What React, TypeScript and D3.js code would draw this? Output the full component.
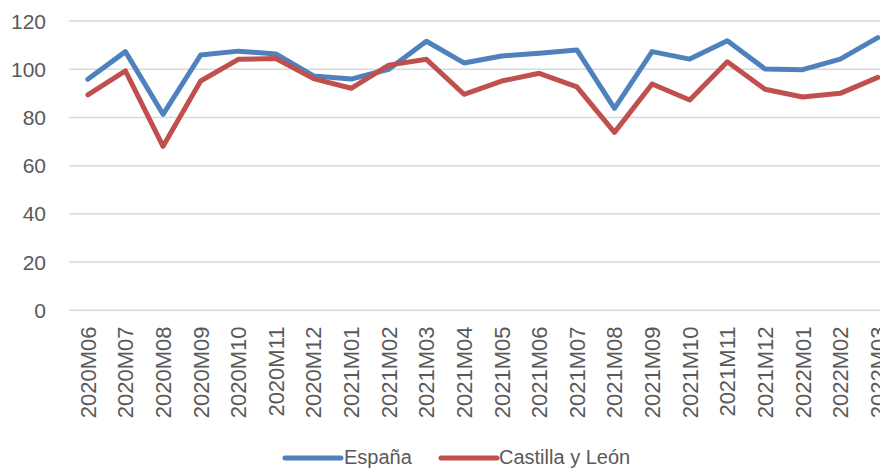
import React from "react";
import * as d3 from "d3";

const categories = [
  "2020M06", "2020M07", "2020M08", "2020M09", "2020M10", "2020M11", "2020M12",
  "2021M01", "2021M02", "2021M03", "2021M04", "2021M05", "2021M06", "2021M07",
  "2021M08", "2021M09", "2021M10", "2021M11", "2021M12", "2022M01", "2022M02", "2022M03",
];

const espana = [
  95.8, 107.3, 81.3, 105.9, 107.5, 106.3, 97.2,
  95.9, 100.0, 111.6, 102.6, 105.5, 106.6, 108.0,
  83.8, 107.3, 104.2, 111.8, 100.1, 99.8, 104.2, 113.1,
];

const castilla = [
  89.4, 99.3, 68.0, 95.1, 104.1, 104.4, 96.1,
  92.1, 101.7, 104.1, 89.6, 95.1, 98.3, 92.7,
  73.8, 93.9, 87.2, 103.1, 91.7, 88.5, 90.0, 96.6,
];

const yTicks = [0, 20, 40, 60, 80, 100, 120];

const seriesNames = ["España", "Castilla y León"];
const seriesColors = ["#4F81BD", "#C0504D"];

const W = 880;
const H = 468;
const FONT = "'Liberation Sans', Arial, sans-serif";
const TEXT = "#595959";

export default function App() {
  const x = d3
    .scaleBand<string>()
    .domain(categories)
    .range([69, 69 + 22 * 37.62])
    .padding(0);
  const y = d3.scaleLinear().domain([0, 120]).range([310.3, 21]);
  const cx = (c: string) => (x(c) ?? 0) + x.bandwidth() / 2;

  const line = d3
    .line<number>()
    .x((_, i) => cx(categories[i]))
    .y((d) => y(d));

  const series = [espana, castilla];

  const legendItems = [
    { x1: 285, x2: 341, tx: 344 },
    { x1: 441, x2: 497, tx: 499 },
  ];

  return (
    <svg
      width={W}
      height={H}
      style={{ position: "absolute", left: 0, top: 0, overflow: "hidden", background: "#fff" }}
      fontFamily={FONT}
    >
      <rect x={0} y={0} width={W} height={H} fill="#fff" />
      {yTicks.map((t) => (
        <g key={t}>
          <line x1={69} x2={W} y1={y(t)} y2={y(t)} stroke="#d9d9d9" strokeWidth={1.5} />
          <text
            x={46}
            y={y(t)}
            dy="0.36em"
            textAnchor="end"
            fontSize={21}
            fill={TEXT}
          >
            {t}
          </text>
        </g>
      ))}
      {categories.map((c) => (
        <text
          key={c}
          transform={`translate(${cx(c)},326.5) rotate(-90)`}
          textAnchor="end"
          dy="0.36em"
          fontSize={22}
          fill={TEXT}
        >
          {c}
        </text>
      ))}
      {series.map((s, i) => (
        <path
          key={i}
          d={line(s) ?? ""}
          fill="none"
          stroke={seriesColors[i]}
          strokeWidth={5}
          strokeLinejoin="round"
          strokeLinecap="round"
        />
      ))}
      {legendItems.map((l, i) => (
        <g key={i}>
          <line
            x1={l.x1}
            x2={l.x2}
            y1={458}
            y2={458}
            stroke={seriesColors[i]}
            strokeWidth={5}
            strokeLinecap="round"
          />
          <text x={l.tx} y={463.5} fontSize={20} fill={TEXT}>
            {seriesNames[i]}
          </text>
        </g>
      ))}
    </svg>
  );
}
